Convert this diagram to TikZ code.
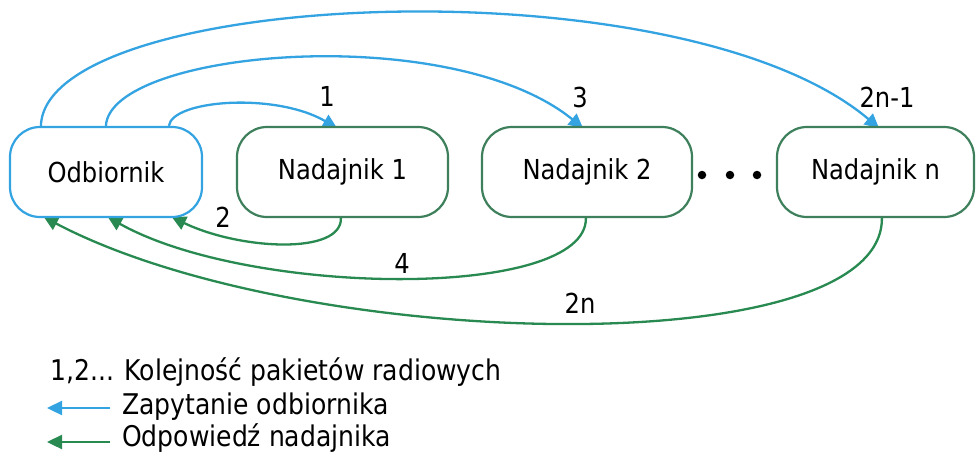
\documentclass[tikz,border=0pt]{standalone}
\usepackage{fontspec}
\setmainfont{DejaVu Sans}[FakeStretch=0.88]
\usetikzlibrary{arrows.meta,calc,backgrounds}
\definecolor{qblue}{RGB}{52,163,225}
\definecolor{rgreen}{RGB}{40,138,80}
\definecolor{bgreen}{RGB}{62,128,92}
\begin{document}
\begin{tikzpicture}[x=1pt,y=-1pt,
  every node/.style={font=\fontsize{27.5}{33}\selectfont},
  box/.style={draw=bgreen, line width=2.2pt, rounded corners=30pt, minimum height=90pt, fill=white, inner sep=0pt},
  query/.style={qblue, line width=2.3pt, -{Triangle[length=14pt,width=14pt]}},
  reply/.style={rgreen, line width=2.3pt, -{Triangle[length=14pt,width=14pt]}},
  legq/.style={qblue, line width=2.3pt, -{Triangle[length=15pt,width=14pt]}},
  legr/.style={rgreen, line width=2.3pt, -{Triangle[length=15pt,width=14pt]}},
  dotmark/.style={circle, fill=black, inner sep=0pt, minimum size=8.5pt},
  legtext/.style={anchor=base west, inner sep=0pt, font=\fontsize{28.5}{34}\selectfont}
]
\useasboundingbox (0,0) rectangle (976,453);

\node[box, draw=qblue, minimum width=192pt] (odb) at (106,172) {Odbiornik};
\node[box, minimum width=211pt] (n1) at (342.5,172) {Nadajnik 1};
\node[box, minimum width=210pt] (n2) at (587,172) {Nadajnik 2};
\node[box, minimum width=197pt] (nn) at (875.5,172) {Nadajnik n};

\node[dotmark] (d1) at (702,175) {};
\node[dotmark] (d2) at (730,175) {};
\node[dotmark] (d3) at (757,175) {};

\node (l1) at (327,96) {1};
\node (l3) at (580,97) {3};
\node (l2n1) at (887,97) {2n-1};
\node (l2) at (223,217) {2};
\node (l4) at (402,263) {4};
\node (l2n) at (580,303) {2n};

\begin{scope}[on background layer]
  \fill[white] (0,0) rectangle (976,453);
  \draw[query] ($(odb.north west)+(160,0)$) .. controls (172,100) and (275,92) .. ($(n1.north west)+(101,2)$);
  \draw[query] ($(odb.north west)+(97,0)$) .. controls (110,50) and (450,20) .. ($(n2.north west)+(102,2)$);
  \draw[query] ($(odb.north west)+(32,0)$) .. controls (45,-10) and (680,-40) .. ($(nn.north west)+(103,2)$);

  \draw[reply] ($(n1.south west)+(105,0)$) .. controls (342,255) and (240,250) .. ($(odb.south west)+(163,-1)$);
  \draw[reply] ($(n2.south west)+(105,0)$) .. controls (587,300) and (250,297) .. ($(odb.south west)+(99,-1)$);
  \draw[reply] ($(nn.south west)+(106,0)$) .. controls (883,365) and (300,352) .. ($(odb.south west)+(35,-1)$);
\end{scope}

\node[legtext] (leg1) at (50,380) {1,2... Kolejność pakietów radiowych};
\coordinate (qa) at (110,408);
\coordinate (qb) at (47,408);
\draw[legq] (qa) -- (qb);
\node[legtext] (leg2) at (122,414) {Zapytanie odbiornika};
\coordinate (ra) at (110,442);
\coordinate (rb) at (47,442);
\draw[legr] (ra) -- (rb);
\node[legtext] (leg3) at (122,446) {Odpowiedź nadajnika};
\end{tikzpicture}
\end{document}
